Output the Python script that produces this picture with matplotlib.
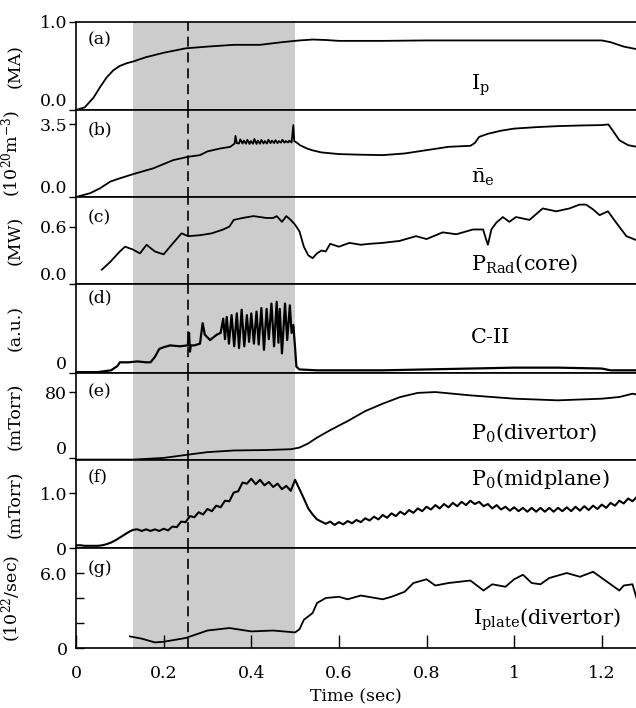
import numpy as np
import matplotlib
matplotlib.use('Agg')
import matplotlib.pyplot as plt

plt.rcParams['font.family'] = 'DejaVu Serif'
plt.rcParams['mathtext.fontset'] = 'dejavuserif'

# ---- data ----
t_ip = [0, 0.02, 0.04, 0.055, 0.07, 0.085, 0.10, 0.115, 0.13, 0.16, 0.20, 0.25, 0.30, 0.36, 0.42,
        0.47, 0.51, 0.54, 0.57, 0.60, 0.70, 0.80, 0.90, 1.00, 1.10, 1.20, 1.22, 1.25, 1.28]
ip = [0.0, 0.03, 0.14, 0.26, 0.37, 0.45, 0.50, 0.53, 0.55, 0.60, 0.65, 0.70, 0.72, 0.74, 0.74,
      0.77, 0.79, 0.80, 0.795, 0.785, 0.785, 0.79, 0.79, 0.79, 0.79, 0.79, 0.77, 0.72, 0.69]

t_ne = [0.0, 0.032, 0.055, 0.078, 0.10, 0.13, 0.176, 0.222, 0.256, 0.283,
        0.30, 0.329, 0.352, 0.362, 0.364, 0.367,
        0.372, 0.375, 0.380, 0.383, 0.388, 0.391, 0.396, 0.399, 0.404, 0.407,
        0.412, 0.415, 0.420, 0.423, 0.428, 0.431, 0.436, 0.439, 0.444, 0.447,
        0.452, 0.455, 0.460, 0.463, 0.468, 0.471, 0.476, 0.479, 0.484, 0.487, 0.492,
        0.496, 0.498, 0.504, 0.511, 0.527, 0.54, 0.56, 0.60, 0.65, 0.70,
        0.75, 0.80, 0.85, 0.90, 0.91, 0.92, 0.94, 0.97, 1.00, 1.05,
        1.10, 1.15, 1.20, 1.215, 1.225, 1.24, 1.26, 1.28]
ne = [0.0, 0.18, 0.42, 0.74, 0.9, 1.1, 1.38, 1.78, 1.94, 2.02,
      2.2, 2.34, 2.42, 2.58, 2.95, 2.6,
      2.58, 2.78, 2.58, 2.72, 2.57, 2.76, 2.56, 2.7, 2.57, 2.8,
      2.56, 2.72, 2.57, 2.75, 2.58, 2.7, 2.58, 2.76, 2.6, 2.72,
      2.6, 2.74, 2.6, 2.7, 2.62, 2.76, 2.62, 2.7, 2.63, 2.72, 2.63,
      3.47, 2.7, 2.62, 2.5, 2.34, 2.25, 2.15, 2.07, 2.04, 2.02,
      2.1, 2.26, 2.42, 2.47, 2.6, 2.9, 3.05, 3.2, 3.3, 3.37,
      3.42, 3.45, 3.47, 3.5, 3.2, 2.74, 2.5, 2.42]

t_prad = [0.059, 0.078, 0.10, 0.112, 0.13, 0.146, 0.161, 0.18, 0.20, 0.222,
          0.241, 0.256, 0.283, 0.31, 0.336, 0.35, 0.36, 0.38, 0.405, 0.42,
          0.435, 0.45, 0.458, 0.47, 0.48, 0.49, 0.50, 0.51, 0.52, 0.53,
          0.54, 0.55, 0.56, 0.57, 0.58, 0.60, 0.624, 0.65, 0.67, 0.70,
          0.738, 0.776, 0.80, 0.837, 0.868, 0.906, 0.929, 0.935, 0.94, 0.948,
          0.959, 0.974, 0.989, 1.004, 1.035, 1.065, 1.096, 1.126, 1.149, 1.164,
          1.18, 1.195, 1.214, 1.233, 1.256, 1.278]
prad = [0.15, 0.23, 0.34, 0.39, 0.36, 0.32, 0.41, 0.34, 0.31, 0.43,
        0.53, 0.50, 0.51, 0.53, 0.57, 0.60, 0.67, 0.69, 0.71, 0.70,
        0.69, 0.69, 0.71, 0.65, 0.71, 0.67, 0.62, 0.55, 0.39, 0.30,
        0.27, 0.32, 0.35, 0.34, 0.42, 0.39, 0.43, 0.41, 0.42, 0.43,
        0.45, 0.50, 0.47, 0.54, 0.52, 0.57, 0.57, 0.48, 0.41, 0.57,
        0.64, 0.70, 0.65, 0.70, 0.67, 0.79, 0.76, 0.79, 0.83, 0.83,
        0.78, 0.72, 0.76, 0.64, 0.50, 0.46]

t_cii = [0, 0.05, 0.08, 0.095, 0.10, 0.12, 0.14, 0.16, 0.17, 0.18,
         0.19, 0.20, 0.215, 0.237, 0.255, 0.258, 0.260, 0.262, 0.27, 0.283,
         0.289, 0.294, 0.306, 0.321, 0.330, 0.336, 0.340, 0.344, 0.349, 0.355,
         0.361, 0.367, 0.372, 0.378, 0.384, 0.390, 0.395, 0.400, 0.406, 0.412,
         0.417, 0.423, 0.429, 0.435, 0.440, 0.446, 0.452, 0.458, 0.462, 0.465,
         0.470, 0.477, 0.482, 0.488, 0.492, 0.496, 0.500, 0.503, 0.51, 0.55,
         0.70, 0.80, 0.90, 1.00, 1.10, 1.20, 1.22, 1.28]
cii = [0.01, 0.01, 0.03, 0.08, 0.12, 0.12, 0.13, 0.12, 0.12, 0.18,
       0.27, 0.29, 0.31, 0.30, 0.31, 0.45, 0.24, 0.31, 0.31, 0.33,
       0.56, 0.43, 0.37, 0.43, 0.45, 0.61, 0.38, 0.63, 0.33, 0.65,
       0.30, 0.67, 0.28, 0.71, 0.30, 0.65, 0.35, 0.67, 0.33, 0.69,
       0.32, 0.73, 0.26, 0.72, 0.38, 0.78, 0.30, 0.80, 0.34, 0.72,
       0.22, 0.78, 0.37, 0.76, 0.45, 0.54, 0.28, 0.07, 0.04, 0.03,
       0.03, 0.04, 0.05, 0.06, 0.06, 0.05, 0.03, 0.03]

t_p0div = [0, 0.13, 0.2, 0.256, 0.3, 0.36, 0.43, 0.49, 0.51, 0.53,
           0.55, 0.58, 0.62, 0.66, 0.70, 0.74, 0.78, 0.82, 0.86, 0.9,
           0.95, 1.0, 1.05, 1.1, 1.15, 1.2, 1.24, 1.27, 1.28]
p0div = [-1.5, -1.5, 0.5, 4.5, 7.5, 9.5, 10, 11, 13, 18,
         25, 34, 45, 57, 66, 74, 79, 80, 78, 76,
         74, 72, 71, 70, 71, 72, 74, 78, 77]

t_p0mid = np.round(np.arange(0, 1.2805, 0.01), 2)
p0mid = [0.05, 0.05, 0.04, 0.04, 0.04, 0.04, 0.05, 0.07, 0.10, 0.14,
         0.19, 0.24, 0.29, 0.33, 0.34, 0.31, 0.34, 0.31, 0.34, 0.31,
         0.35, 0.32, 0.39, 0.38, 0.48, 0.47, 0.58, 0.56, 0.65, 0.61,
         0.71, 0.67, 0.77, 0.74, 0.86, 0.85, 1.01, 1.03, 1.19, 1.17,
         1.26, 1.16, 1.24, 1.14, 1.20, 1.11, 1.17, 1.07, 1.13, 1.04,
         1.24, 1.07, 0.90, 0.72, 0.61, 0.52, 0.48, 0.44, 0.48, 0.42,
         0.47, 0.43, 0.49, 0.45, 0.51, 0.47, 0.54, 0.50, 0.57, 0.52,
         0.60, 0.55, 0.63, 0.58, 0.66, 0.61, 0.69, 0.64, 0.72, 0.67,
         0.75, 0.70, 0.78, 0.72, 0.80, 0.74, 0.82, 0.76, 0.84, 0.78,
         0.86, 0.80, 0.84, 0.76, 0.80, 0.72, 0.78, 0.70, 0.75, 0.68,
         0.74, 0.67, 0.73, 0.66, 0.73, 0.66, 0.73, 0.66, 0.73, 0.66,
         0.73, 0.67, 0.74, 0.67, 0.75, 0.68, 0.76, 0.69, 0.77, 0.71,
         0.79, 0.73, 0.82, 0.77, 0.86, 0.81, 0.90, 0.85, 0.93]

t_iplate = [0.123, 0.15, 0.18, 0.2, 0.25, 0.3, 0.35, 0.4, 0.45, 0.5,
            0.51, 0.52, 0.54, 0.55, 0.57, 0.6, 0.62, 0.65, 0.7, 0.72,
            0.75, 0.77, 0.8, 0.82, 0.85, 0.9, 0.93, 0.95, 0.98, 1.0,
            1.02, 1.04, 1.06, 1.08, 1.12, 1.15, 1.18, 1.2, 1.24, 1.25,
            1.27, 1.28]
iplate = [0.93, 0.75, 0.45, 0.5, 0.8, 1.4, 1.6, 1.33, 1.4, 1.25,
          1.5, 2.26, 2.8, 3.6, 4.0, 4.1, 3.9, 4.2, 3.9, 4.1,
          4.5, 5.2, 5.5, 5.0, 5.2, 5.4, 4.6, 5.1, 4.9, 5.5,
          5.86, 5.2, 5.1, 5.6, 6.0, 5.7, 6.1, 5.6, 4.6, 5.0,
          5.1, 3.9]

shade = (0.13, 0.5)
t_mark = 0.255
xticks = [0, 0.2, 0.4, 0.6, 0.8, 1.0, 1.2]
xticklabels = ['0', '0.2', '0.4', '0.6', '0.8', '1', '1.2']

# (t, y, ylim, yticks, yticklabels, ylabel, tag, tag_y, name, name_x, name_y, name_ha, lw)
panels = [
    (t_ip, ip, (0, 1.0), [0, 1.0], ['0.0', '1.0'], '(MA)', '(a)', 0.80,
     r'I$_\mathrm{p}$', 0.922, 0.23, 'center', 1.3),
    (t_ne, ne, (0, 4.2), [0, 3.5], ['0.0', '3.5'], r'(10$^{20}$m$^{-3}$)', '(b)', 0.77,
     r'$\bar{\mathrm{n}}_\mathrm{e}$', 0.929, 0.165, 'center', 1.3),
    (t_prad, prad, (0, 0.91), [0, 0.6], ['0.0', '0.6'], '(MW)', '(c)', 0.76,
     r'P$_\mathrm{Rad}$(core)', 0.902, 0.16, 'left', 1.3),
    (t_cii, cii, (0, 1.0), [0], ['0'], '(a.u.)', '(d)', 0.84,
     'C-II', 0.902, 0.34, 'left', 1.6),
    (t_p0div, p0div, (-2, 103), [0, 80], ['0', '80'], '(mTorr)', '(e)', 0.78,
     r'P$_0$(divertor)', 0.902, 0.25, 'left', 1.3),
    (t_p0mid, p0mid, (0, 1.6), [0, 1.0], ['0', '1.0'], '(mTorr)', '(f)', 0.81,
     r'P$_0$(midplane)', 0.902, 0.716, 'left', 1.5),
    (t_iplate, iplate, (0, 8), [0, 2, 4, 6], ['0', '', '', '6.0'], r'(10$^{22}$/sec)', '(g)', 0.80,
     r'I$_\mathrm{plate}$(divertor)', 0.906, 0.23, 'left', 1.3),
]

fig = plt.figure(figsize=(6.36, 7.08), dpi=100)
axes = fig.subplots(7, 1, sharex=True,
                    gridspec_kw=dict(hspace=0, height_ratios=[88, 87, 87, 89, 87, 88, 100]))
fig.subplots_adjust(left=0.1195, right=1.0, top=0.969, bottom=0.0847)

for i, (ax, p) in enumerate(zip(axes, panels)):
    t, y, ylim, yt, ytl, ylab, tag, tag_y, name, nx, ny, nha, lw = p
    last = (i == len(panels) - 1)
    ax.axvspan(shade[0], shade[1], color='#cccccc', lw=0, zorder=0)
    ax.axvline(t_mark, color='k', lw=1.2, ls=(0, (6, 3.5)), zorder=1)
    ax.plot(t, y, color='k', lw=lw, zorder=2)
    ax.set_xlim(0, 1.278)
    ax.set_ylim(*ylim)
    ax.set_yticks(yt)
    ax.set_yticklabels(ytl, fontsize=12.5)
    ax.spines['right'].set_visible(False)
    for s in ['left', 'top', 'bottom']:
        ax.spines[s].set_linewidth(1.2)
    if last:
        ax.tick_params(axis='y', direction='in', length=6, width=1, pad=6)
        ax.tick_params(axis='x', direction='in', length=9.5, width=1, pad=12, labelsize=12.5)
        ax.set_xticks(xticks)
        ax.set_xticklabels(xticklabels)
        ax.set_xlabel('Time (sec)', fontsize=12.5, labelpad=5)
    else:
        ax.tick_params(axis='y', direction='out', length=5, width=1, pad=1.5)
        ax.tick_params(axis='x', length=0)
        # zero label sits a little above the panel floor
        if i < 5:
            ax.get_yticklabels()[0].set_va('bottom')
    ax.set_ylabel(ylab, fontsize=12.5)
    ax.yaxis.set_label_coords(-0.092, 0.5)
    ax.text(0.021, tag_y, tag, transform=ax.transAxes, fontsize=12.5, va='center', ha='left')
    ax.text(nx, ny, name, transform=ax.get_xaxis_transform(), fontsize=15,
            va='baseline', ha=nha)

fig.savefig('out.png', dpi=100)
